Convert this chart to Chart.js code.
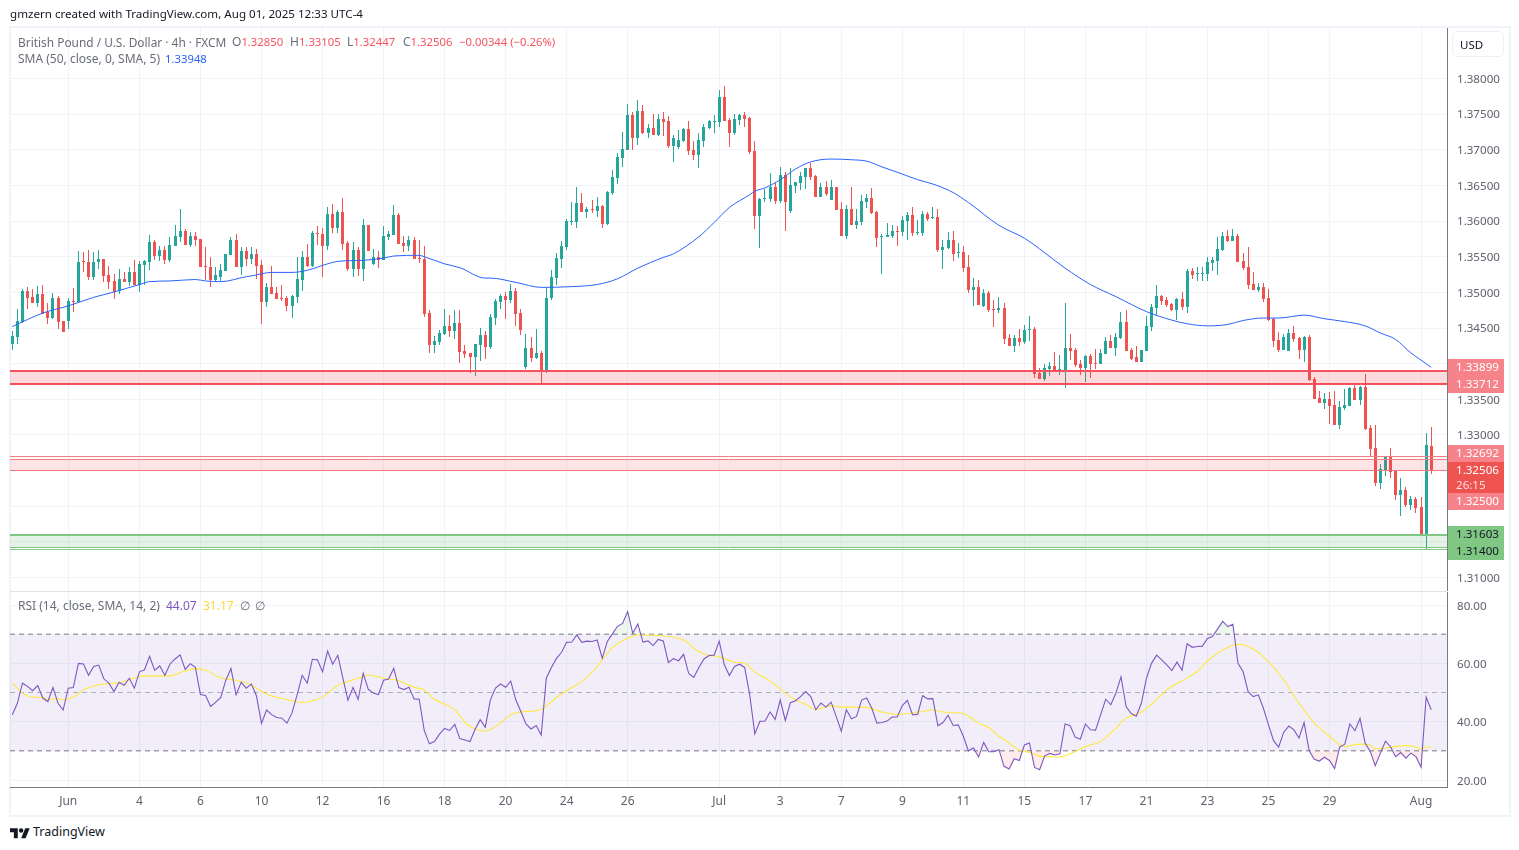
<!DOCTYPE html>
<html><head><meta charset="utf-8">
<style>
html,body{margin:0;padding:0;background:#fff;width:1519px;height:850px;overflow:hidden}
body{font-family:"Noto Sans",sans-serif;font-size:12px;color:#6a6d78;position:relative}
canvas{position:absolute;left:0;display:block}
.t{position:absolute;white-space:pre;line-height:16px}
.frame{position:absolute;left:9px;top:26px;width:1498px;height:787px;border:2px solid #f0f3fa;box-sizing:content-box}
.sep{position:absolute;left:10px;top:591px;width:1437px;height:1px;background:#e0e3eb}
.r{color:#f7525f;font-size:11.3px}.b{color:#2962ff;font-size:11.3px}.p{color:#7e57c2}.y{color:#fdd835}
.usd{position:absolute;left:1452px;top:31px;width:52px;height:26px;border:1px solid #eef0f5;border-radius:5px;color:#131722;box-sizing:border-box;line-height:25px;padding-left:7px;font-size:11.5px}
</style></head><body>
<div class="frame"></div>
<canvas id="main" width="1519" height="591" style="top:0;width:1519px;height:591px"></canvas>
<canvas id="rsi" width="1519" height="224" style="top:591px;width:1519px;height:224px"></canvas>
<div class="sep"></div>
<div class="t" style="left:10px;top:6px;color:#131722;font-size:11.6px">gmzern created with TradingView.com, Aug 01, 2025 12:33 UTC-4</div>
<div class="t" style="left:18px;top:34px;font-size:11.9px">British Pound / U.S. Dollar · 4h · FXCM</div>
<div class="t" style="left:232px;top:34px">O<span class="r">1.32850</span></div>
<div class="t" style="left:290px;top:34px">H<span class="r">1.33105</span></div>
<div class="t" style="left:347px;top:34px">L<span class="r">1.32447</span></div>
<div class="t" style="left:403px;top:34px">C<span class="r">1.32506</span></div>
<div class="t r" style="left:459px;top:34px">−0.00344 (−0.26%)</div>
<div class="t" style="left:18px;top:51px">SMA (50, close, 0, SMA, 5)</div>
<div class="t b" style="left:165px;top:51px">1.33948</div>
<div class="t" style="left:18px;top:598px">RSI (14, close, SMA, 14, 2)</div>
<div class="t p" style="left:166px;top:598px">44.07</div>
<div class="t y" style="left:203px;top:598px">31.17</div>
<div class="t" style="left:240px;top:598px">∅</div>
<div class="t" style="left:255px;top:598px">∅</div>
<div class="usd">USD</div>
<svg style="position:absolute;left:10px;top:826px" width="20" height="14" viewBox="0 0 36 25"><path fill="#131722" d="M14 22H7V11H0V4h14v18zM28 22h-8l7.5-18h8L28 22z"/><circle fill="#131722" cx="20" cy="8" r="4"/></svg>
<div class="t" style="left:33px;top:824px;color:#131722;font-size:12.5px">TradingView</div>
<script src="https://cdn.jsdelivr.net/npm/chart.js@4/dist/chart.umd.min.js"></script>
<script>
const opens=[1.3427,1.3438,1.3459,1.3502,1.3494,1.3485,1.3497,1.3472,1.3464,1.3492,
1.3460,1.3460,1.3488,1.3487,1.3543,1.3543,1.3521,1.3542,1.3547,1.3525,
1.3516,1.3502,1.3519,1.3514,1.3528,1.3511,1.3539,1.3542,1.3571,1.3551,
1.3560,1.3546,1.3565,1.3578,1.3586,1.3567,1.3579,1.3575,1.3537,1.3536,
1.3518,1.3521,1.3530,1.3553,1.3574,1.3536,1.3558,1.3547,1.3554,1.3538,
1.3486,1.3507,1.3499,1.3492,1.3492,1.3481,1.3494,1.3517,1.3550,1.3537,
1.3583,1.3582,1.3565,1.3610,1.3590,1.3613,1.3569,1.3533,1.3559,1.3533,
1.3594,1.3540,1.3550,1.3545,1.3578,1.3580,1.3608,1.3569,1.3565,1.3573,
1.3548,1.3547,1.3471,1.3426,1.3430,1.3442,1.3453,1.3446,1.3457,1.3418,
1.3415,1.3409,1.3426,1.3440,1.3424,1.3464,1.3486,1.3495,1.3489,1.3502,
1.3471,1.3395,1.3422,1.3408,1.3415,1.3390,1.3492,1.3520,1.3547,1.3564,
1.3599,1.3599,1.3625,1.3613,1.3617,1.3614,1.3621,1.3596,1.3639,1.3660,
1.3688,1.3700,1.3749,1.3716,1.3754,1.3723,1.3730,1.3721,1.3743,1.3740,
1.3705,1.3704,1.3712,1.3729,1.3700,1.3693,1.3712,1.3731,1.3739,1.3739,
1.3774,1.3742,1.3724,1.3742,1.3749,1.3745,1.3698,1.3607,1.3631,1.3631,
1.3648,1.3628,1.3665,1.3614,1.3649,1.3653,1.3662,1.3674,1.3663,1.3634,
1.3648,1.3630,1.3648,1.3617,1.3579,1.3617,1.3595,1.3599,1.3627,1.3632,
1.3613,1.3578,1.3578,1.3579,1.3586,1.3585,1.3600,1.3609,1.3583,1.3583,
1.3610,1.3604,1.3606,1.3560,1.3562,1.3574,1.3555,1.3557,1.3536,1.3503,
1.3508,1.3481,1.3499,1.3477,1.3475,1.3478,1.3436,1.3425,1.3436,1.3430,
1.3447,1.3449,1.3387,1.3379,1.3393,1.3397,1.3391,1.3391,1.3422,1.3419,
1.3400,1.3394,1.3411,1.3401,1.3400,1.3414,1.3432,1.3422,1.3436,1.3458,
1.3419,1.3409,1.3402,1.3418,1.3451,1.3478,1.3495,1.3489,1.3484,1.3475,
1.3491,1.3479,1.3530,1.3526,1.3526,1.3526,1.3541,1.3544,1.3559,1.3579,
1.3572,1.3579,1.3544,1.3536,1.3512,1.3503,1.3508,1.3492,1.3463,1.3433,
1.3419,1.3418,1.3443,1.3436,1.3419,1.3437,1.3379,1.3352,1.3345,1.3351,
1.3342,1.3314,1.3338,1.3341,1.3366,1.3349,1.3367,1.3310,1.3282,1.3233,
1.3251,1.3269,1.3250,1.3216,1.3223,1.3202,1.3210,1.3199,1.3160,1.3285];
const closes=[1.3439,1.3460,1.3502,1.3492,1.3485,1.3497,1.3470,1.3464,1.3492,1.3459,
1.3445,1.3488,1.3487,1.3543,1.3542,1.3521,1.3543,1.3547,1.3523,1.3515,
1.3501,1.3519,1.3514,1.3528,1.3511,1.3540,1.3544,1.3571,1.3551,1.3560,
1.3546,1.3567,1.3579,1.3586,1.3567,1.3579,1.3574,1.3536,1.3535,1.3518,
1.3525,1.3532,1.3554,1.3574,1.3536,1.3558,1.3547,1.3554,1.3537,1.3486,
1.3507,1.3498,1.3491,1.3491,1.3481,1.3495,1.3519,1.3550,1.3537,1.3583,
1.3582,1.3565,1.3610,1.3590,1.3613,1.3568,1.3533,1.3559,1.3533,1.3594,
1.3558,1.3550,1.3545,1.3579,1.3582,1.3608,1.3568,1.3565,1.3573,1.3547,
1.3547,1.3470,1.3426,1.3432,1.3443,1.3453,1.3446,1.3457,1.3416,1.3414,
1.3409,1.3428,1.3440,1.3423,1.3465,1.3488,1.3495,1.3489,1.3502,1.3470,
1.3447,1.3422,1.3408,1.3415,1.3390,1.3492,1.3522,1.3548,1.3565,1.3600,
1.3600,1.3625,1.3613,1.3617,1.3615,1.3621,1.3596,1.3641,1.3662,1.3690,
1.3701,1.3749,1.3716,1.3754,1.3723,1.3730,1.3721,1.3743,1.3739,1.3705,
1.3716,1.3714,1.3729,1.3698,1.3693,1.3714,1.3732,1.3740,1.3740,1.3774,
1.3740,1.3723,1.3743,1.3749,1.3743,1.3697,1.3607,1.3631,1.3632,1.3648,
1.3628,1.3665,1.3627,1.3651,1.3655,1.3663,1.3674,1.3662,1.3634,1.3648,
1.3638,1.3648,1.3616,1.3579,1.3617,1.3595,1.3600,1.3628,1.3632,1.3611,
1.3576,1.3579,1.3581,1.3586,1.3585,1.3602,1.3609,1.3583,1.3585,1.3610,
1.3603,1.3606,1.3560,1.3564,1.3574,1.3554,1.3557,1.3534,1.3503,1.3508,
1.3482,1.3499,1.3475,1.3475,1.3478,1.3435,1.3425,1.3436,1.3430,1.3447,
1.3449,1.3386,1.3379,1.3394,1.3397,1.3390,1.3393,1.3422,1.3418,1.3398,
1.3394,1.3411,1.3400,1.3400,1.3415,1.3432,1.3422,1.3437,1.3458,1.3418,
1.3407,1.3402,1.3419,1.3453,1.3479,1.3495,1.3488,1.3482,1.3475,1.3491,
1.3479,1.3530,1.3524,1.3527,1.3527,1.3543,1.3545,1.3561,1.3579,1.3572,
1.3579,1.3543,1.3534,1.3510,1.3503,1.3508,1.3491,1.3461,1.3432,1.3419,
1.3437,1.3443,1.3435,1.3419,1.3437,1.3377,1.3351,1.3345,1.3351,1.3341,
1.3314,1.3339,1.3342,1.3366,1.3349,1.3367,1.3308,1.3280,1.3233,1.3252,
1.3269,1.3248,1.3216,1.3223,1.3202,1.3210,1.3198,1.3160,1.3286,1.3251];
const highs=[1.3446,1.3476,1.3505,1.3507,1.3505,1.3509,1.3511,1.3485,1.3499,1.3495,
1.3460,1.3492,1.3506,1.3558,1.3556,1.3560,1.3557,1.3560,1.3547,1.3537,
1.3526,1.3533,1.3529,1.3535,1.3546,1.3544,1.3545,1.3581,1.3574,1.3565,
1.3565,1.3577,1.3595,1.3617,1.3589,1.3585,1.3584,1.3575,1.3564,1.3549,
1.3535,1.3540,1.3554,1.3578,1.3582,1.3564,1.3564,1.3564,1.3561,1.3545,
1.3513,1.3537,1.3507,1.3510,1.3495,1.3496,1.3550,1.3558,1.3568,1.3586,
1.3593,1.3590,1.3620,1.3624,1.3615,1.3632,1.3572,1.3571,1.3564,1.3603,
1.3594,1.3561,1.3558,1.3593,1.3586,1.3622,1.3611,1.3579,1.3579,1.3578,
1.3573,1.3565,1.3475,1.3439,1.3447,1.3477,1.3468,1.3475,1.3475,1.3426,
1.3415,1.3428,1.3450,1.3446,1.3470,1.3491,1.3498,1.3500,1.3512,1.3506,
1.3477,1.3442,1.3437,1.3449,1.3418,1.3506,1.3531,1.3555,1.3572,1.3603,
1.3627,1.3648,1.3639,1.3620,1.3630,1.3634,1.3622,1.3642,1.3672,1.3695,
1.3725,1.3764,1.3753,1.3770,1.3763,1.3736,1.3750,1.3750,1.3753,1.3747,
1.3721,1.3728,1.3731,1.3740,1.3712,1.3723,1.3736,1.3742,1.3749,1.3784,
1.3789,1.3744,1.3750,1.3750,1.3753,1.3746,1.3712,1.3632,1.3645,1.3667,
1.3653,1.3676,1.3669,1.3674,1.3655,1.3669,1.3674,1.3681,1.3665,1.3653,
1.3656,1.3658,1.3648,1.3627,1.3623,1.3648,1.3617,1.3637,1.3638,1.3646,
1.3614,1.3582,1.3597,1.3595,1.3593,1.3607,1.3613,1.3620,1.3602,1.3614,
1.3613,1.3620,1.3617,1.3574,1.3585,1.3586,1.3569,1.3565,1.3552,1.3520,
1.3517,1.3505,1.3502,1.3489,1.3493,1.3485,1.3442,1.3440,1.3449,1.3454,
1.3467,1.3451,1.3394,1.3400,1.3402,1.3416,1.3412,1.3485,1.3442,1.3422,
1.3405,1.3412,1.3414,1.3421,1.3421,1.3437,1.3440,1.3443,1.3472,1.3475,
1.3422,1.3425,1.3419,1.3467,1.3484,1.3510,1.3496,1.3493,1.3485,1.3492,
1.3501,1.3533,1.3534,1.3536,1.3536,1.3550,1.3550,1.3578,1.3585,1.3587,
1.3589,1.3582,1.3555,1.3564,1.3529,1.3513,1.3513,1.3505,1.3464,1.3444,
1.3442,1.3449,1.3453,1.3437,1.3439,1.3440,1.3381,1.3362,1.3359,1.3360,
1.3362,1.3348,1.3365,1.3367,1.3370,1.3369,1.3386,1.3314,1.3314,1.3259,
1.3271,1.3282,1.3251,1.3240,1.3227,1.3214,1.3213,1.3213,1.3303,1.3311];
const lows=[1.3419,1.3427,1.3457,1.3477,1.3485,1.3480,1.3469,1.3455,1.3463,1.3448,
1.3445,1.3448,1.3473,1.3487,1.3528,1.3518,1.3518,1.3533,1.3515,1.3505,
1.3491,1.3497,1.3514,1.3509,1.3511,1.3501,1.3511,1.3532,1.3546,1.3544,
1.3540,1.3543,1.3565,1.3571,1.3567,1.3563,1.3565,1.3535,1.3518,1.3508,
1.3516,1.3516,1.3530,1.3553,1.3535,1.3525,1.3537,1.3540,1.3519,1.3456,
1.3479,1.3498,1.3491,1.3488,1.3474,1.3464,1.3485,1.3502,1.3536,1.3536,
1.3566,1.3522,1.3559,1.3583,1.3583,1.3559,1.3530,1.3522,1.3523,1.3516,
1.3558,1.3538,1.3534,1.3545,1.3573,1.3580,1.3568,1.3557,1.3558,1.3547,
1.3541,1.3465,1.3415,1.3415,1.3426,1.3440,1.3437,1.3435,1.3401,1.3408,
1.3387,1.3383,1.3404,1.3406,1.3421,1.3454,1.3477,1.3463,1.3485,1.3453,
1.3440,1.3393,1.3402,1.3407,1.3370,1.3387,1.3489,1.3510,1.3534,1.3559,
1.3594,1.3590,1.3613,1.3604,1.3611,1.3606,1.3590,1.3594,1.3636,1.3652,
1.3676,1.3700,1.3700,1.3707,1.3722,1.3716,1.3721,1.3719,1.3719,1.3702,
1.3683,1.3701,1.3711,1.3693,1.3686,1.3674,1.3704,1.3729,1.3723,1.3732,
1.3740,1.3704,1.3721,1.3735,1.3732,1.3694,1.3589,1.3562,1.3627,1.3627,
1.3624,1.3625,1.3586,1.3611,1.3639,1.3644,1.3645,1.3658,1.3634,1.3634,
1.3635,1.3630,1.3616,1.3579,1.3575,1.3595,1.3589,1.3595,1.3618,1.3610,
1.3564,1.3526,1.3578,1.3576,1.3565,1.3579,1.3574,1.3579,1.3581,1.3579,
1.3600,1.3603,1.3557,1.3533,1.3561,1.3544,1.3548,1.3529,1.3499,1.3481,
1.3482,1.3479,1.3472,1.3451,1.3471,1.3428,1.3425,1.3416,1.3425,1.3428,
1.3432,1.3380,1.3379,1.3376,1.3383,1.3388,1.3384,1.3366,1.3405,1.3395,
1.3384,1.3374,1.3380,1.3392,1.3400,1.3414,1.3422,1.3411,1.3435,1.3418,
1.3405,1.3402,1.3402,1.3418,1.3446,1.3468,1.3482,1.3479,1.3474,1.3461,
1.3475,1.3471,1.3519,1.3516,1.3516,1.3516,1.3530,1.3524,1.3558,1.3571,
1.3572,1.3543,1.3531,1.3505,1.3503,1.3501,1.3486,1.3460,1.3423,1.3416,
1.3419,1.3418,1.3430,1.3407,1.3402,1.3376,1.3351,1.3345,1.3336,1.3315,
1.3314,1.3308,1.3335,1.3341,1.3349,1.3342,1.3307,1.3271,1.3229,1.3224,
1.3243,1.3240,1.3209,1.3186,1.3199,1.3195,1.3191,1.3160,1.3140,1.32447];
const smaIndex=[0,6,11,16,20,25,27,31,36,38,41,46,47,51,55,58,62,64,69,73,75,80,81,85,88,93,94,99,104,110,115,119,123,128,130,135,138,141,145,146,148,151,154,157,161,165,168,171,175,178,181,185,188,194,199,202,207,212,217,223,228,231,235,236,239,242,246,249,254,258,262,266,269,272,275,277,279];
const smaValues=[1.3452,1.3471,1.3481,1.3493,1.35005,1.3511,1.3515,1.3516,1.3518,1.3516,1.3515,1.3522,1.3523,1.3528,1.3528,1.3531,1.3540,1.35435,1.3545,1.3548,1.3551,1.3552,1.3550,1.3540,1.35346,1.3520,1.3520,1.3514,1.3507,1.3508,1.3511,1.3519,1.3534,1.3549,1.3554,1.3578,1.3598,1.3619,1.3637,1.3642,1.36465,1.3658,1.3673,1.3683,1.3687,1.3686,1.3684,1.3676,1.3666,1.3658,1.3652,1.3640,1.3626,1.3594,1.3576,1.3561,1.3534,1.3511,1.3494,1.3473,1.3461,1.3456,1.3453,1.3453,1.3455,1.34605,1.3464,1.3464,1.3468,1.3463,1.3459,1.3453,1.3443,1.3434,1.3415,1.3405,1.33948];
const rsiValues=[42.4,46.3,53.2,52.1,50.6,52.4,48.1,46.9,51.7,46.3,
44.0,51.5,51.7,60.0,59.8,55.9,58.9,59.4,54.7,53.2,
50.3,53.5,52.5,54.9,51.5,57.1,57.8,62.4,57.6,59.1,
55.9,59.7,61.5,62.9,57.9,59.9,58.6,49.3,49.0,45.2,
46.7,48.3,54.3,58.2,49.2,53.5,51.5,52.9,48.9,39.4,
44.0,42.4,41.4,41.2,39.5,43.0,49.2,55.9,53.2,61.4,
61.2,57.1,64.2,59.7,62.8,54.9,47.4,51.7,47.6,56.6,
51.1,49.8,49.3,54.2,54.6,58.3,51.7,51.0,51.8,47.8,
47.7,37.0,32.4,33.2,35.7,37.7,37.0,39.1,34.2,33.7,
33.2,37.4,40.7,38.1,47.4,51.5,52.9,
51.8,53.9,47.5,43.5,39.2,37.5,38.7,35.4,54.9,58.6,
61.7,63.8,67.2,67.3,69.7,67.2,67.6,67.5,68.0,61.7,
67.5,70.1,72.7,73.7,77.8,70.3,73.5,67.3,67.7,66.1,
68.2,67.7,60.3,61.6,60.9,63.1,56.5,55.2,58.6,61.5,
62.7,62.8,67.6,59.5,55.8,58.9,59.7,58.6,49.2,35.8,
40.1,40.2,43.3,40.8,47.4,40.4,46.5,47.2,48.6,50.3,
48.6,44.1,46.4,45.0,46.7,41.8,36.7,44.1,41.0,41.8,
47.4,48.1,44.6,39.5,39.7,40.2,41.6,41.6,45.5,47.3,
42.4,42.5,48.9,47.8,47.9,38.6,39.7,42.2,38.7,38.9,
35.0,30.0,31.0,27.9,32.9,29.7,29.7,30.4,
24.7,23.8,27.3,26.7,32.0,32.7,24.3,23.5,28.3,29.1,
28.6,29.0,39.2,38.6,34.7,34.0,39.2,37.2,37.1,42.4,
47.7,45.8,49.8,55.4,45.2,42.8,41.9,46.3,54.9,60.0,
62.8,61.2,59.5,57.5,60.4,57.6,66.7,65.5,65.8,65.9,
68.5,69.2,71.8,74.4,72.6,73.4,60.0,57.2,50.3,48.6,
49.2,44.6,38.9,33.5,31.3,36.4,38.5,37.2,34.4,39.7,
30.0,27.1,26.5,27.8,26.7,23.9,31.3,32.3,39.2,36.9,
41.1,32.7,29.8,24.9,29.2,33.3,31.4,28.0,29.4,27.5,
29.2,28.0,24.4,48.4,44.07];
const rsiSmaIndex=[0,1,2,4,6,7,8,10,12,14,15,18,21,23,26,31,34,36,38,41,44,47,50,54,57,61,64,68,70,73,76,79,81,83,87,89,91,93,96,98,100,104,107,109,112,114,116,118,121,123,128,132,135,137,139,142,144,146,149,152,154,156,158,161,163,168,171,174,179,181,183,187,190,192,194,196,198,200,202,204,206,209,211,214,217,219,221,222,225,227,230,233,235,238,241,242,244,247,250,253,256,259,261,262,265,267,268,271,274,276,277,278,279];
const rsiSmaValues=[53.2,51.5,49.8,48.4,48.3,47.5,47.9,47.6,48.4,50.9,51.7,52.9,53.3,54.4,55.7,55.7,57.4,58.2,57.6,55.0,54.2,52.6,49.4,47.6,46.6,48.5,52.4,54.9,56.0,54.9,54.0,51.8,50.9,47.7,44.1,39.8,37.4,36.8,39.5,42.4,43.3,44.2,48.3,50.6,53.8,56.9,61.2,65.4,68.6,69.7,69.4,68.0,64.0,62.7,62.3,60.4,60.0,57.0,54.0,49.8,47.4,46.0,44.2,45.5,45.0,44.9,43.3,42.5,43.5,44.1,43.3,42.7,39.5,38.0,35.0,32.7,30.2,29.5,28.2,28.0,27.9,29.8,31.5,33.2,37.8,41.2,42.6,43.3,47.5,50.9,54.0,57.2,60.8,64.6,66.5,66.4,64.9,60.6,54.3,46.3,39.5,35.0,32.1,31.5,32.3,31.9,30.6,31.2,31.8,31.3,30.4,31.3,31.17];
const priceTicks=[1.38,1.375,1.37,1.365,1.36,1.355,1.35,1.345,1.34,1.335,1.33,1.325,1.32,1.315,1.31];
const coveredPriceTicks=[1.34,1.325,1.32,1.315];
const rsiTicks=[80,60,40,20];
const dateIndex=[11,25,37,49,61,73,85,97,109,121,139,151,163,175,187,199,211,223,235,247,259,277];
const dateLabels=["Jun","4","6","10","12","16","18","20","24","26","Jul","3","7","9","11","15","17","21","23","25","29","Aug"];
const tagTexts=["1.33899","1.33712","1.32692","1.32506","26:15","1.32500","1.31603","1.31400"];

const XMIN=-0.45,XMAX=282.1;
const UP='#26a69a',DOWN='#ef5350',GRID='#f0f3fa',AXIS='#787b86',TXT='#5f626d';
const FONT={family:'"Noto Sans",sans-serif',size:11.6};
const colors=opens.map((o,i)=>closes[i]>=o?UP:DOWN);
const hline=(v,color,width,extra)=>Object.assign({type:'line',isLevel:true,data:[{x:XMIN,y:v},{x:XMAX,y:v}],borderColor:color,borderWidth:width,pointRadius:0,order:1,fill:false},extra||{});
const snap={id:'snap',beforeDatasetsDraw(c){c.data.datasets.forEach((d,i)=>{
 const pts=c.getDatasetMeta(i).data;
 if(d.isLevel){pts.forEach(p=>{p.y=d.borderWidth===1?Math.floor(p.y)+0.5:Math.round(p.y);});return;}
 if(d.type==='line')return;
 pts.forEach(e=>{e.x=Math.floor(e.x)+0.5;e.y=Math.round(e.y);e.base=Math.round(e.base);});});}};
const tagStyle=[
 {top:359,h:17,bg:'#f7838a',fg:'#fff'},{top:376,h:17,bg:'#f7838a',fg:'#fff'},
 {top:445,h:17,bg:'#f7838a',fg:'#fff'},{top:462,h:16,bg:'#ef5350',fg:'#fff'},{top:478,h:15,bg:'#ef5350',fg:'#ffdede'},
 {top:493,h:17,bg:'#f7838a',fg:'#fff'},{top:526,h:17,bg:'#81c784',fg:'#131722'},{top:543,h:17,bg:'#81c784',fg:'#131722'}];
const tags={id:'tags',afterDraw(c){const g=c.ctx;g.save();g.font='11.6px "Noto Sans",sans-serif';g.textBaseline='middle';g.textAlign='left';
 tagTexts.forEach((t,i)=>{const s=tagStyle[i];g.fillStyle=s.bg;g.fillRect(c.chartArea.right+1,s.top,56,s.h);g.fillStyle=s.fg;g.fillText(t,c.chartArea.right+9,s.top+s.h/2+0.5);});g.restore();}};
const xScale=(show)=>({type:'linear',min:XMIN,max:XMAX,offset:false,
 grid:{color:GRID,offset:false,drawTicks:false,lineWidth:1},border:{display:show,color:AXIS},
 afterBuildTicks:s=>{s.ticks=dateIndex.map(v=>({value:v}));},
 afterFit:s=>{s.height=show?28:0;s.paddingLeft=0;s.paddingRight=0;},
 ticks:{display:show,autoSkip:false,maxRotation:0,color:TXT,font:{family:FONT.family,size:12},padding:7,callback:v=>dateLabels[dateIndex.indexOf(v)]}});
const yScale=(min,max,vals,fmt,shift)=>({position:'right',min,max,beginAtZero:false,
 grid:{color:GRID,drawTicks:false},border:{display:true,color:AXIS},
 afterBuildTicks:s=>{s.ticks=vals.map(v=>({value:v}));},
 afterFit:s=>{s.width=62;s.paddingTop=0;s.paddingBottom=0;},
 ticks:{autoSkip:false,color:TXT,font:FONT,padding:10,labelOffset:shift,callback:fmt}});
const common={responsive:false,animation:false,devicePixelRatio:1,plugins:{legend:{display:false},tooltip:{enabled:false}},events:[]};

new Chart(document.getElementById('main'),{type:'bar',plugins:[snap,tags],
 data:{datasets:[
  hline(1.33899,'#f7525f',2,{fill:'+1',backgroundColor:'rgba(242,54,69,0.18)'}),
  hline(1.33712,'#f7525f',2),
  hline(1.32692,'#f77c80',1),
  hline(1.32660,'#f77c80',1,{fill:'+1',backgroundColor:'rgba(242,54,69,0.13)'}),
  hline(1.32500,'#f77c80',1),
  hline(1.32506,'#ef5350',1,{borderDash:[1,2]}),
  hline(1.31603,'#81c784',2,{fill:'+1',backgroundColor:'rgba(76,175,80,0.15)'}),
  hline(1.31428,'#81c784',1),
  hline(1.31400,'#81c784',1),
  {type:'line',data:smaIndex.map((x,i)=>({x,y:smaValues[i]})),borderColor:'#2962ff',borderWidth:1,pointRadius:0,cubicInterpolationMode:'monotone',order:0,fill:false},
  {type:'bar',data:opens.map((o,i)=>({x:i,y:[Math.min(o,closes[i]),Math.max(o,closes[i])]})),backgroundColor:colors,barThickness:3,minBarLength:1,grouped:false,inflateAmount:0,borderWidth:0,order:2},
  {type:'bar',data:opens.map((o,i)=>({x:i,y:[lows[i],highs[i]]})),backgroundColor:colors,barThickness:1,grouped:false,inflateAmount:0,borderWidth:0,order:3}
 ]},
 options:Object.assign({},common,{layout:{padding:{left:10,right:10,top:28,bottom:0}},
  scales:{x:xScale(false),y:yScale(1.30811,1.38708,priceTicks,v=>coveredPriceTicks.includes(v)?'':v.toFixed(5),1)}})});

new Chart(document.getElementById('rsi'),{type:'line',
 data:{datasets:[
  {data:[{x:XMIN,y:70},{x:XMAX,y:70}],borderColor:'#787b86',borderWidth:1,borderDash:[5,4],pointRadius:0,fill:'+1',backgroundColor:'rgba(126,87,194,0.1)',order:4},
  {data:[{x:XMIN,y:30},{x:XMAX,y:30}],borderColor:'#787b86',borderWidth:1,borderDash:[5,4],pointRadius:0,fill:false,order:4},
  {data:[{x:XMIN,y:50},{x:XMAX,y:50}],borderColor:'rgba(120,123,134,0.55)',borderWidth:1,borderDash:[5,4],pointRadius:0,fill:false,order:4},
  {data:rsiValues.map((y,x)=>({x,y})),borderColor:'rgba(0,0,0,0)',borderWidth:0,pointRadius:0,fill:{target:{value:30},above:'rgba(0,0,0,0)',below:'rgba(242,54,69,0.1)'},order:3},
  {data:rsiValues.map((y,x)=>({x,y})),borderColor:'#7e57c2',borderWidth:1.1,pointRadius:0,fill:{target:{value:70},above:'rgba(76,175,80,0.1)',below:'rgba(0,0,0,0)'},order:1},
  {data:rsiSmaIndex.map((x,i)=>({x,y:rsiSmaValues[i]})),borderColor:'#ffe93b',borderWidth:1.1,pointRadius:0,cubicInterpolationMode:'monotone',fill:false,order:2}
 ]},
 options:Object.assign({},common,{layout:{padding:{left:10,right:10,top:1,bottom:0}},
  scales:{x:xScale(true),y:yScale(17.6,84.46,rsiTicks,v=>v.toFixed(2),1.5)}})});
</script>
</body></html>
